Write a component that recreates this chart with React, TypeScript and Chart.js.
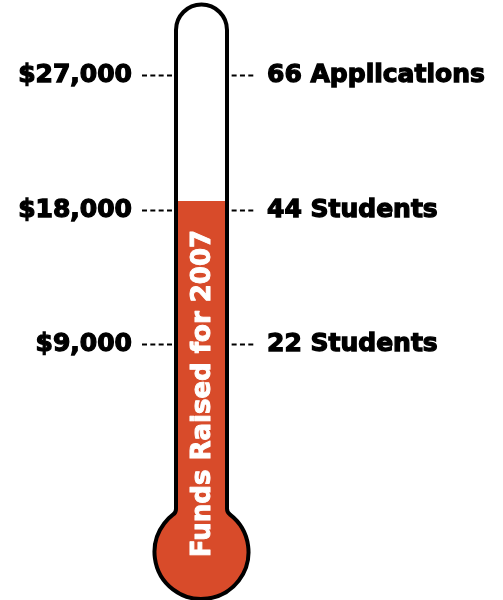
import { useEffect, useRef } from 'react';
import { Chart, registerables } from 'chart.js';

Chart.register(...registerables);

const categories = ['Funds Raised for 2007'];
const fundsRaised = [18600];
const fundTicks = [9000, 18000, 27000];
const fundTickLabels = ['$9,000', '$18,000', '$27,000'];
const goalTickLabels = ['22 Students', '44 Students', '66 Applications'];
const scaleMin = -3000;
const scaleMax = 30000;

const FILL = '#D84B2A';
const INK = '#000000';
const TICK_FONT = { family: 'DejaVu Sans', size: 25, weight: 'bold' as const };

const thermometerPlugin = {
  id: 'thermometer',
  afterDatasetsDraw(chart: any) {
    const { ctx, chartArea } = chart;
    const L = chartArea.left - 1;
    const R = chartArea.right + 1;
    const cx = (L + R) / 2;
    const half = (R - L) / 2;
    const topY = chartArea.top - 1;
    const bulbR = 47;
    const bulbY = chartArea.bottom + 28;
    const dy = Math.sqrt(bulbR * bulbR - half * half);
    const neckY = bulbY - dy;
    const aRight = Math.atan2(-dy, half);
    const aLeft = Math.atan2(-dy, -half) + Math.PI * 2;
    const fr = 7;
    const dirR = { x: -Math.sin(aRight), y: Math.cos(aRight) };

    const outline = () => {
      ctx.beginPath();
      ctx.arc(cx, topY, half, Math.PI, 0, false);
      ctx.arcTo(R, neckY, R + dirR.x * 14, neckY + dirR.y * 14, fr);
      ctx.arc(cx, bulbY, bulbR, aRight + 0.08, aLeft - 0.08, false);
      ctx.arcTo(L, neckY, L, neckY - 50, fr);
      ctx.lineTo(L, topY);
      ctx.closePath();
    };

    ctx.save();
    ctx.beginPath();
    ctx.rect(0, chartArea.bottom - 20, chart.width, chart.height);
    ctx.clip();
    outline();
    ctx.fillStyle = FILL;
    ctx.fill();
    ctx.restore();

    ctx.save();
    outline();
    ctx.lineWidth = 4;
    ctx.strokeStyle = INK;
    ctx.lineJoin = 'round';
    ctx.stroke();
    ctx.restore();

    const meta = chart.getDatasetMeta(0);
    const bar = meta.data[0];
    ctx.save();
    ctx.translate(bar.x + 8.5, 393.5);
    ctx.rotate(-Math.PI / 2);
    ctx.fillStyle = '#ffffff';
    ctx.strokeStyle = '#ffffff';
    ctx.lineWidth = 1;
    ctx.lineJoin = 'round';
    ctx.font = 'bold 26px "DejaVu Sans"';
    ctx.textAlign = 'center';
    ctx.textBaseline = 'alphabetic';
    ctx.fillText(chart.data.labels[0], 0, 0);
    ctx.strokeText(chart.data.labels[0], 0, 0);
    ctx.restore();
  },
};

export default function App() {
  const canvasRef = useRef<HTMLCanvasElement | null>(null);

  useEffect(() => {
    if (!canvasRef.current) return;
    const chart = new Chart(canvasRef.current, {
      type: 'bar',
      data: {
        labels: categories,
        datasets: [
          {
            data: fundsRaised,
            base: scaleMin,
            backgroundColor: FILL,
            borderWidth: 0,
            barPercentage: 1,
            categoryPercentage: 1,
            yAxisID: 'y',
          } as any,
        ],
      },
      options: {
        animation: false,
        responsive: true,
        maintainAspectRatio: false,
        devicePixelRatio: 1,
        layout: { padding: { top: 31, bottom: 76, left: 0, right: 0 } },
        plugins: { legend: { display: false }, tooltip: { enabled: false }, title: { display: false } },
        scales: {
          x: { display: false },
          y: {
            type: 'linear',
            position: 'left',
            min: scaleMin,
            max: scaleMax,
            afterBuildTicks: (s: any) => {
              s.ticks = fundTicks.map((v) => ({ value: v }));
            },
            afterFit: (s: any) => {
              s.width = 177;
            },
            border: { display: false },
            grid: {
              display: true,
              drawOnChartArea: false,
              drawTicks: true,
              tickLength: 35,
              tickColor: '#000',
              tickWidth: 2,
              tickBorderDash: [5, 3.33],
              tickBorderDashOffset: 0,
            },
            ticks: {
              padding: 10,
              color: INK,
              font: TICK_FONT,
              textStrokeColor: INK,
              textStrokeWidth: 1.3,
              callback: (_v: any, i: number) => fundTickLabels[i],
            },
          },
          y2: {
            type: 'linear',
            position: 'right',
            min: scaleMin,
            max: scaleMax,
            afterBuildTicks: (s: any) => {
              s.ticks = fundTicks.map((v) => ({ value: v }));
            },
            afterFit: (s: any) => {
              s.width = 277;
            },
            border: { display: false },
            grid: {
              display: true,
              drawOnChartArea: false,
              drawTicks: true,
              tickLength: 29,
              tickColor: '#000',
              tickWidth: 2,
              tickBorderDash: [5, 3.33],
              tickBorderDashOffset: 2.7,
            },
            ticks: {
              padding: 12,
              color: INK,
              font: TICK_FONT,
              textStrokeColor: INK,
              textStrokeWidth: 1.3,
              callback: (_v: any, i: number) => goalTickLabels[i],
            },
          },
        },
      } as any,
      plugins: [thermometerPlugin],
    });
    return () => chart.destroy();
  }, []);

  return (
    <div style={{ position: 'fixed', left: 0, top: 0, width: 503, height: 600, background: '#fff' }}>
      <canvas ref={canvasRef} />
    </div>
  );
}
